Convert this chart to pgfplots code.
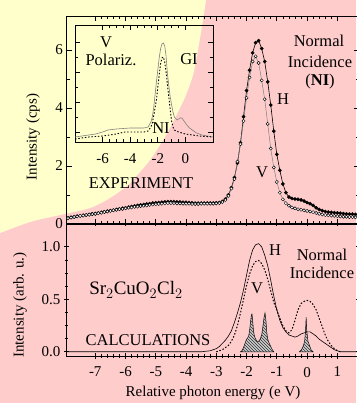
\documentclass[border=0pt]{standalone}
\usepackage{pgfplots}
\pgfplotsset{compat=1.18}
\usepackage{pgfplotstable}
\usepackage{fontspec}
\setmainfont{Liberation Serif}
\usetikzlibrary{patterns}
\definecolor{bgpink}{RGB}{255,204,204}
\definecolor{bgyellow}{RGB}{255,255,204}

\pgfplotstableread{
E H V
-7.9 0.21 0.20
-7.8 0.23 0.22
-7.7 0.25 0.24
-7.6 0.27 0.26
-7.5 0.28 0.28
-7.4 0.30 0.29
-7.3 0.31 0.31
-7.2 0.33 0.32
-7.1 0.35 0.34
-7.0 0.36 0.35
-6.9 0.38 0.37
-6.8 0.40 0.39
-6.7 0.42 0.41
-6.6 0.44 0.43
-6.5 0.46 0.45
-6.4 0.48 0.47
-6.3 0.50 0.49
-6.2 0.52 0.51
-6.1 0.54 0.52
-6.0 0.56 0.54
-5.9 0.58 0.56
-5.8 0.60 0.57
-5.7 0.62 0.59
-5.6 0.64 0.60
-5.5 0.66 0.62
-5.4 0.67 0.63
-5.3 0.69 0.64
-5.2 0.70 0.66
-5.1 0.72 0.67
-5.0 0.73 0.68
-4.9 0.74 0.69
-4.8 0.75 0.70
-4.7 0.76 0.71
-4.6 0.77 0.72
-4.5 0.77 0.72
-4.4 0.77 0.72
-4.3 0.76 0.71
-4.2 0.76 0.71
-4.1 0.75 0.70
-4.0 0.75 0.70
-3.9 0.74 0.70
-3.8 0.73 0.69
-3.7 0.72 0.69
-3.6 0.72 0.69
-3.5 0.72 0.70
-3.4 0.72 0.70
-3.3 0.72 0.70
-3.2 0.72 0.70
-3.1 0.72 0.70
-3.0 0.73 0.71
-2.9 0.74 0.72
-2.8 0.78 0.76
-2.7 0.86 0.83
-2.6 1.00 0.97
-2.5 1.25 1.22
-2.4 1.60 1.55
-2.3 2.10 2.15
-2.2 2.80 2.75
-2.1 3.70 3.55
-2.0 4.60 4.35
-1.9 5.30 5.05
-1.8 5.90 5.60
-1.7 6.25 5.78
-1.6 6.32 5.55
-1.5 6.05 4.95
-1.4 5.60 4.30
-1.3 4.90 3.45
-1.2 4.10 2.60
-1.1 3.20 1.95
-1.0 2.40 1.45
-0.9 1.85 1.08
-0.8 1.38 0.85
-0.7 1.08 0.72
-0.6 0.93 0.63
-0.5 0.88 0.57
-0.4 0.86 0.54
-0.3 0.85 0.51
-0.2 0.83 0.49
-0.1 0.79 0.47
0.0 0.74 0.45
0.1 0.70 0.43
0.2 0.64 0.41
0.3 0.56 0.38
0.4 0.50 0.35
0.5 0.46 0.33
0.6 0.43 0.31
0.7 0.41 0.30
0.8 0.40 0.29
0.9 0.39 0.28
1.0 0.38 0.27
1.1 0.37 0.26
1.2 0.36 0.25
1.3 0.35 0.25
1.4 0.34 0.24
1.5 0.34 0.24
1.6 0.33 0.23
}\exptable

\pgfplotstableread{
E I
-7.95 0.0
-3.5 0.0
-3.2 0.01
-3.0 0.03
-2.9 0.05
-2.8 0.08
-2.7 0.11
-2.6 0.15
-2.5 0.20
-2.4 0.28
-2.3 0.37
-2.2 0.47
-2.1 0.59
-2.0 0.73
-1.9 0.87
-1.8 0.97
-1.7 1.02
-1.6 1.03
-1.5 1.00
-1.4 0.92
-1.3 0.82
-1.2 0.68
-1.1 0.53
-1.0 0.40
-0.9 0.30
-0.8 0.23
-0.7 0.19
-0.6 0.16
-0.5 0.15
-0.4 0.14
-0.3 0.15
-0.2 0.17
-0.1 0.18
0.0 0.19
0.1 0.19
0.2 0.17
0.3 0.15
0.4 0.12
0.5 0.10
0.6 0.08
0.7 0.06
0.8 0.04
0.9 0.02
1.0 0.01
1.1 0.0
1.7 0.0
}\calcH

\pgfplotstableread{
E I
-3.0 0.0
-2.8 0.02
-2.6 0.06
-2.5 0.10
-2.4 0.16
-2.3 0.25
-2.2 0.37
-2.1 0.50
-2.0 0.63
-1.9 0.74
-1.8 0.82
-1.7 0.86
-1.6 0.87
-1.5 0.84
-1.4 0.78
-1.3 0.69
-1.2 0.58
-1.1 0.47
-1.0 0.40
-0.9 0.32
-0.8 0.25
-0.7 0.20
-0.6 0.18
-0.5 0.21
-0.4 0.30
-0.3 0.40
-0.2 0.46
-0.1 0.48
0.0 0.49
0.1 0.48
0.2 0.45
0.3 0.40
0.4 0.32
0.5 0.24
0.6 0.16
0.7 0.10
0.8 0.06
0.9 0.03
1.0 0.01
1.1 0.0
}\calcV

\pgfplotstableread{
E I
-2.20 0.0
-2.15 0.01
-2.10 0.04
-2.05 0.08
-2.00 0.12
-1.97 0.13
-1.93 0.15
-1.90 0.20
-1.87 0.28
-1.84 0.35
-1.82 0.36
-1.80 0.30
-1.77 0.20
-1.74 0.15
-1.70 0.12
-1.65 0.10
-1.60 0.10
-1.55 0.12
-1.50 0.16
-1.46 0.24
-1.42 0.33
-1.39 0.37
-1.36 0.30
-1.33 0.18
-1.30 0.12
-1.25 0.08
-1.20 0.05
-1.15 0.02
-1.10 0.0
}\sticksA

\pgfplotstableread{
E I
-0.25 0.0
-0.18 0.02
-0.12 0.06
-0.08 0.10
-0.05 0.20
-0.03 0.33
-0.01 0.20
0.03 0.10
0.08 0.06
0.13 0.02
0.20 0.0
}\sticksB

\pgfplotstableread{
E I
-8.0 8
-7.5 9
-7.0 10
-6.5 11
-6.0 13
-5.6 15
-5.0 16
-4.0 17
-3.0 17
-2.7 18
-2.5 23
-2.4 28
-2.3 37
-2.2 50
-2.1 63
-2.0 75
-1.9 87
-1.8 96
-1.7 101
-1.6 102
-1.5 99
-1.4 89
-1.3 71
-1.2 59
-1.1 48
-1.0 40
-0.9 33
-0.8 28
-0.6 25
-0.4 27
-0.25 27
-0.1 24
0.1 20
0.3 17
0.6 14
0.8 12
1.2 10
1.6 9
2.0 8
}\insetGI

\pgfplotstableread{
E I
-8.0 6
-7.5 7
-7.0 8
-6.0 9
-5.0 11
-4.4 13
-3.0 13
-2.7 14
-2.5 18
-2.4 22
-2.3 29
-2.2 37
-2.1 45
-2.0 58
-1.9 70
-1.8 81
-1.7 87
-1.6 88
-1.5 83
-1.4 73
-1.3 60
-1.2 48
-1.1 35
-1.0 24
-0.9 18
-0.8 15
-0.5 13
0.0 11
0.5 10
1.0 9
2.0 8
}\insetNI

\newcommand{\tfont}{\fontsize{15}{18}\selectfont}
\newcommand{\bfont}{\fontsize{16.5}{19}\selectfont}

\begin{document}
\begin{tikzpicture}
\begin{scope}[x=1pt,y=1pt]
\fill[bgpink] (0,0) rectangle (356,403);
\fill[bgyellow] (0,403) -- (206,403) -- plot[smooth] coordinates {(206,403) (203,383) (198,353) (193,328) (186,308) (180,295) (170,275) (160,258) (150,243) (140,231) (128,218) (110,205) (90,195) (60,188) (30,181) (0,170)} -- cycle;
\end{scope}

\pgfplotsset{
  every axis/.append style={
    scale only axis, anchor=south west,
    axis line style={line width=0.8pt},
    tick style={black, line width=0.7pt},
    major tick length=5pt, minor tick length=3pt,
    tick label style={font=\tfont},
  },
}

% upper experimental panel
\begin{axis}[
  at={(66.5pt,179pt)}, width=292pt, height=208pt,
  xmin=-7.95, xmax=1.7, ymin=0, ymax=7.17,
  xtick={-7,-6,-5,-4,-3,-2,-1,0,1}, xticklabels={},
  minor x tick num=4,
  ytick={0,2,4,6}, yticklabels={0,2,4,6},
  minor y tick num=1,
  tick align=inside,
  clip=false,
]
\addplot[black, line width=0.6pt, mark=*, mark size=1.7pt, mark options={fill=black, draw=black, line width=0.3pt}] table[x=E, y=H] {\exptable};
\addplot[gray, line width=0.5pt, mark=*, mark size=1.6pt, mark options={fill=white, draw=black, line width=0.45pt}] table[x=E, y=V] {\exptable};
\end{axis}

% lower calculation panel
\begin{axis}[
  at={(66.5pt,47pt)}, width=292pt, height=132.3pt,
  xmin=-7.95, xmax=1.7, ymin=-0.04, ymax=1.22,
  xtick={-7,-6,-5,-4,-3,-2,-1,0,1}, xticklabels={-7,-6,-5,-4,-3,-2,-1,0,1},
  minor x tick num=4,
  ytick={0,0.5,1}, yticklabels={0.0,0.5,1.0},
  minor y tick num=3,
  tick align=center,
  xticklabel style={yshift=-5pt},
]
\addplot[fill=gray!40, draw=black, line width=0.5pt] table[x=E, y=I] {\sticksA} \closedcycle;
\addplot[draw=none, pattern=north west lines, pattern color=black!80] table[x=E, y=I] {\sticksA} \closedcycle;
\addplot[fill=gray!40, draw=black, line width=0.5pt] table[x=E, y=I] {\sticksB} \closedcycle;
\addplot[draw=none, pattern=north west lines, pattern color=black!80] table[x=E, y=I] {\sticksB} \closedcycle;
\addplot[black, line width=0.6pt] table[x=E, y=I] {\calcH};
\addplot[black, line width=1pt, dash pattern=on 1.5pt off 1.8pt] table[x=E, y=I] {\calcV};
\end{axis}

% inset
\begin{axis}[
  at={(75pt,261pt)}, width=138pt, height=117pt,
  xmin=-8, xmax=2, ymin=3, ymax=120,
  xtick={-6,-4,-2,0}, xticklabels={-6,-4,-2,0},
  minor x tick num=3,
  ytick={13,43,73,103}, yticklabels={},
  minor y tick num=1,
  tick align=inside,
  xticklabel style={yshift=-8pt},
]
\addplot[gray, line width=0.6pt] table[x=E, y=I] {\insetGI};
\addplot[black, line width=0.9pt, dash pattern=on 1.5pt off 1.8pt] table[x=E, y=I] {\insetNI};
\end{axis}

\begin{scope}[x=1pt,y=1pt, every node/.style={inner sep=0pt}]
\node[rotate=90, font=\tfont] at (33,266) {Intensity (cps)};
\node[rotate=90, font=\tfont] at (20,98) {Intensity (arb. u.)};
\node[font=\tfont] at (213,10) {Relative photon energy (e V)};
\node[font=\bfont] at (141,220) {EXPERIMENT};
\node[font=\bfont] at (106,361) {V};
\node[font=\bfont] at (111,343) {Polariz.};
\node[font=\bfont] at (189,344) {GI};
\node[font=\bfont] at (161,275) {NI};
\node[font=\bfont] at (319,362) {Normal};
\node[font=\bfont] at (320,341) {Incidence};
\node[font=\bfont] at (320,321) {(\textbf{NI})};
\node[font=\bfont] at (283,304) {H};
\node[font=\bfont] at (262,231) {V};
\node[font=\fontsize{19}{22}\selectfont] at (136,113) {Sr$_2$CuO$_2$Cl$_2$};
\node[font=\bfont] at (148,63) {CALCULATIONS};
\node[font=\bfont] at (275,153) {H};
\node[font=\bfont] at (257,115) {V};
\node[font=\bfont] at (322,148) {Normal};
\node[font=\bfont] at (322,130) {Incidence};
\end{scope}

\pgfresetboundingbox
\path (0,0) rectangle (356pt,403pt);
\end{tikzpicture}
\end{document}
